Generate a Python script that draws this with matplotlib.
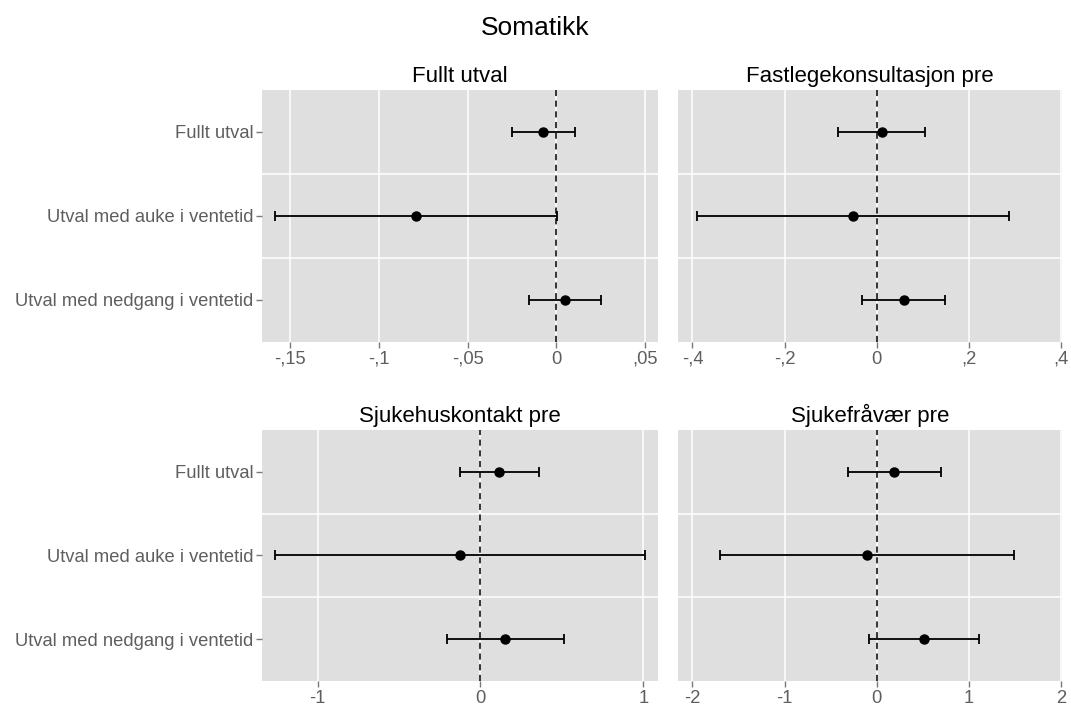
import matplotlib
matplotlib.use("Agg")
import matplotlib.pyplot as plt
from matplotlib.ticker import FixedLocator, FuncFormatter

plt.rcParams['font.family'] = ['Liberation Sans', 'DejaVu Sans']

rows = ["Fullt utval", "Utval med auke i ventetid", "Utval med nedgang i ventetid"]
titles = ["Fullt utval", "Fastlegekonsultasjon pre", "Sjukehuskontakt pre", "Sjukefråvær pre"]

# point estimates and confidence limits, one list per panel (rows in order above)
est_fullt = [-0.0073, -0.0789, 0.0047]
lo_fullt = [-0.0250, -0.1584, -0.0156]
hi_fullt = [0.0107, 0.0004, 0.0250]

est_fastlege = [0.0108, -0.0506, 0.0585]
lo_fastlege = [-0.0838, -0.3890, -0.0318]
hi_fastlege = [0.1055, 0.2880, 0.1480]

est_sjukehus = [0.113, -0.125, 0.152]
lo_sjukehus = [-0.127, -1.262, -0.207]
hi_sjukehus = [0.359, 1.012, 0.510]

est_fravaer = [0.191, -0.101, 0.513]
lo_fravaer = [-0.307, -1.697, -0.080]
hi_fravaer = [0.697, 1.495, 1.112]

xticks = [[-0.15, -0.1, -0.05, 0, 0.05],
          [-0.4, -0.2, 0, 0.2, 0.4],
          [-1, 0, 1],
          [-2, -1, 0, 1, 2]]
xlims = [(-0.1657, 0.0575), (-0.4306, 0.4025), (-1.340, 1.092), (-2.153, 2.012)]

panels = [(est_fullt, lo_fullt, hi_fullt),
          (est_fastlege, lo_fastlege, hi_fastlege),
          (est_sjukehus, lo_sjukehus, hi_sjukehus),
          (est_fravaer, lo_fravaer, hi_fravaer)]

W, H = 1071, 709
boxes = [(262.3, 90, 658.3, 341.7), (678.3, 90, 1062, 341.7),
         (262.3, 430, 658.3, 681), (678.3, 430, 1062, 681)]


def fmt(v, pos):
    s = f"{v:g}"
    if s == "0":
        return s
    s = s.replace("0.", ".").replace(".", ",")
    return s


grey_txt = '#5e5e5e'
fig = plt.figure(figsize=(W / 100, H / 100), dpi=100)

for i, (est, lo, hi) in enumerate(panels):
    x0, y0, x1, y1 = boxes[i]
    ax = fig.add_axes([x0 / W, 1 - y1 / H, (x1 - x0) / W, (y1 - y0) / H])
    ax.set_facecolor('#dfdfdf')
    for s in ax.spines.values():
        s.set_visible(False)
    ypos = [3, 2, 1]
    ax.set_ylim(0.5, 3.5)
    ax.set_xlim(*xlims[i])
    for xt in xticks[i]:
        ax.axvline(xt, color='white', lw=1.1, zorder=1)
    for yl in [1.5, 2.5]:
        ax.axhline(yl, color='white', lw=1.1, zorder=1)
    ax.axvline(0, color='black', lw=1.1, ls=(0, (4, 3)), zorder=2)
    xerr = [[e - l for e, l in zip(est, lo)], [h - e for e, h in zip(est, hi)]]
    ax.errorbar(est, ypos, xerr=xerr, fmt='o', color='black', ms=6.5,
                elinewidth=1.3, capsize=3.5, capthick=1.3, zorder=3)
    ax.xaxis.set_major_locator(FixedLocator(xticks[i]))
    ax.xaxis.set_major_formatter(FuncFormatter(fmt))
    ax.set_yticks(ypos)
    ax.tick_params(axis='both', colors='#7a7a7a', labelcolor=grey_txt,
                   labelsize=13.2, length=4.5, width=1, pad=2)
    if i % 2 == 0:
        ax.set_yticklabels(rows)
    else:
        ax.set_yticklabels([])
        ax.tick_params(axis='y', length=0)
    ax.set_title(titles[i], fontsize=16, pad=6)

fig.suptitle("Somatikk", fontsize=19, y=0.978)
fig.savefig("out.png", dpi=100)
